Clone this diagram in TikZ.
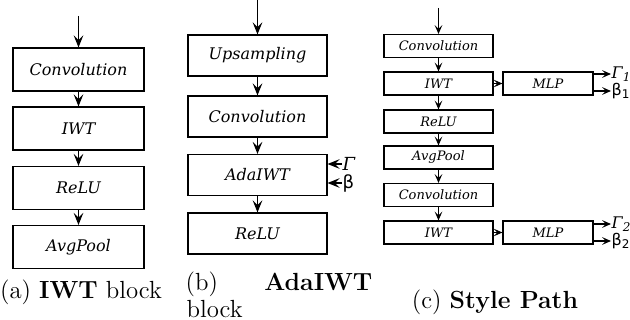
\documentclass[tikz,border=0pt]{standalone}
\usepackage{fontspec}
\newfontfamily\layerfont{DejaVu Serif}
\newfontfamily\greekfont{DejaVu Sans}
\usetikzlibrary{arrows.meta}

\tikzset{
	layer/.style={draw,line width=0.55pt,inner sep=0pt,
		font=\layerfont\itshape\fontsize{8}{9}\selectfont},
	small layer/.style={layer,font=\layerfont\itshape\fontsize{6.5}{7}\selectfont,
		minimum width=54.5pt,minimum height=11.5pt},
	sig/.style={inner sep=0pt,anchor=west,font=\fontsize{9}{10}\selectfont},
	small sig/.style={sig,font=\fontsize{8}{9}\selectfont},
	caption text/.style={inner sep=0pt,font=\fontsize{12.4}{15}\selectfont},
}

\begin{document}
\begin{tikzpicture}[x=0.5pt,y=-0.5pt,line width=0.65pt,
	>={Stealth[length=6pt,width=4.8pt,inset=2.4pt]}]
	\useasboundingbox (0,0) rectangle (630,320);

	% (a) IWT block
	\begin{scope}[every node/.style={layer,minimum width=65.5pt,minimum height=21.5pt}]
	\node (a1) at (78.5,69.5) {Convolution};
	\node (a2) at (78.5,128.5) {IWT};
	\node (a3) at (78.5,188) {ReLU};
	\node (a4) at (78.5,247) {AvgPool};
	\end{scope}
	\coordinate (ina) at (78.5,16);
	\path (ina) edge[->] (a1);
	\path (a1) edge[->] (a2);
	\path (a2) edge[->] (a3);
	\path (a3) edge[->] (a4);

	% (b) AdaIWT block
	\begin{scope}[every node/.style={layer,minimum width=69.5pt,minimum height=20.5pt}]
	\node (b1) at (257.5,55.5) {Upsampling};
	\node (b2) at (257.5,116.5) {Convolution};
	\node (b3) at (257.5,175) {AdaIWT};
	\node (b4) at (257.5,233.5) {ReLU};
	\end{scope}
	\coordinate (inb) at (257.5,0);
	\path (inb) edge[->] (b1);
	\path (b1) edge[->] (b2);
	\path (b2) edge[->] (b3);
	\path (b3) edge[->] (b4);
	\node[sig] (gam) at (342,164) {\layerfont\itshape Γ};
	\node[sig] (bet) at (342,183) {\greekfont β};
	\path (gam.west) edge[->] (gam -| b3.east);
	\path (bet.west) edge[->] (bet -| b3.east);

	% (c) style path
	\begin{scope}[>={Stealth[length=4.4pt,width=3.8pt,inset=1.8pt]}]
	\begin{scope}[every node/.style={small layer}]
	\node (c1) at (438.5,46) {Convolution};
	\node (c2) at (438.5,83.5) {IWT};
	\node (c3) at (438.5,121.5) {ReLU};
	\node (c4) at (438.5,157.5) {AvgPool};
	\node (c5) at (438.5,195) {Convolution};
	\node (c6) at (438.5,232.5) {IWT};
	\node[minimum width=45pt] (m1) at (548,83.5) {MLP};
	\node[minimum width=45pt] (m2) at (548,232.5) {MLP};
	\end{scope}
	\coordinate (inc) at (438.5,8);
	\path (inc) edge[->] (c1);
	\path (c1) edge[->] (c2);
	\path (c2) edge[->] (c3);
	\path (c3) edge[->] (c4);
	\path (c4) edge[->] (c5);
	\path (c5) edge[->] (c6);
	\path (c2) edge[->] (m1);
	\path (c6) edge[->] (m2);
	\node[small sig] (g1) at (611,74) {\layerfont\itshape Γ\textsubscript{1}};
	\node[small sig] (b1o) at (611,91) {\greekfont β\textsubscript{1}};
	\node[small sig] (g2) at (611,224) {\layerfont\itshape Γ\textsubscript{2}};
	\node[small sig] (b2o) at (611,241) {\greekfont β\textsubscript{2}};
	\path (m1.east |- g1) edge[->] (g1.west);
	\path (m1.east |- b1o) edge[->] (b1o.west);
	\path (m2.east |- g2) edge[->] (g2.west);
	\path (m2.east |- b2o) edge[->] (b2o.west);
	\end{scope}

	% captions
	\node[caption text,anchor=base] (capa) at (81,298) {(a) \textbf{IWT} block};
	\node[caption text,anchor=base west] (capb) at (185,290) {(b)};
	\node[caption text,anchor=base east] (capbt) at (373,290) {\textbf{AdaIWT}};
	\node[caption text,anchor=base west] (capbb) at (186,317) {block};
	\node[caption text,anchor=base] (capc) at (495,308) {(c) \textbf{Style Path}};
\end{tikzpicture}
\end{document}
